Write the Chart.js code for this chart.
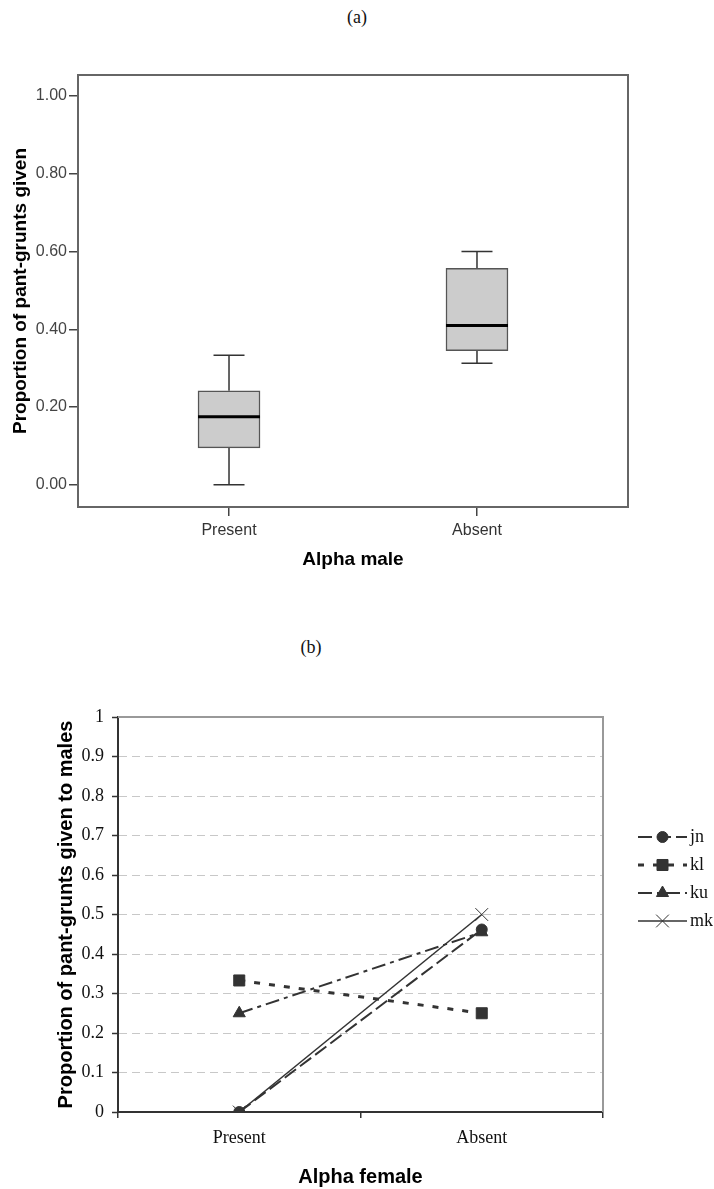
<!DOCTYPE html>
<html>
<head>
<meta charset="utf-8">
<script src="https://cdn.jsdelivr.net/npm/chart.js@4.4.1/dist/chart.umd.min.js"></script>
<style>
  body { margin: 0; width: 714px; height: 1189px; background: #fff; position: relative; overflow: hidden; }
  .panel { position: absolute; font-family: "Liberation Serif", serif; font-size: 18px; color: #111; transform: translate(-50%, -50%); }
  #wrapA { position: absolute; left: 0; top: 0; }
  #wrapB { position: absolute; left: 0; top: 600px; }
</style>
</head>
<body>
<div class="panel" style="left:357px; top:17px">(a)</div>
<div class="panel" style="left:311px; top:647px">(b)</div>
<div id="wrapA"><canvas id="boxChart" width="714" height="600"></canvas></div>
<div id="wrapB"><canvas id="lineChart" width="714" height="589"></canvas></div>

<script>
// (a) box plot: alpha male present / absent
const groups = ['Present', 'Absent'];
const groupPos = [1, 2];
const whiskerLow = [0.0, 0.313];
const quartile1 = [0.095, 0.345];
const medians = [0.175, 0.41];
const quartile3 = [0.242, 0.557];
const whiskerHigh = [0.333, 0.60];
const yTicksA = [0, 0.2, 0.4, 0.6, 0.8, 1.0];

// (b) individual females: alpha female present / absent
const conditions = ['Present', 'Absent'];
const jn = [0, 0.462];
const kl = [0.333, 0.25];
const ku = [0.25, 0.455];
const mk = [0, 0.5];

const sans = 'Liberation Sans, Arial, sans-serif';
const serif = 'Liberation Serif, Times New Roman, serif';

// whiskers + median for the box plot, drawn through the chart scales
const boxParts = {
  id: 'boxParts',
  beforeDatasetsDraw(chart) {
    const { ctx, scales: { x, y } } = chart;
    ctx.save();
    ctx.strokeStyle = '#333';
    ctx.lineWidth = 1.5;
    groupPos.forEach((g, i) => {
      const cx = x.getPixelForValue(g);
      const half = 15.5;
      ctx.beginPath();
      ctx.moveTo(cx, y.getPixelForValue(quartile3[i]));
      ctx.lineTo(cx, y.getPixelForValue(whiskerHigh[i]));
      ctx.moveTo(cx, y.getPixelForValue(quartile1[i]));
      ctx.lineTo(cx, y.getPixelForValue(whiskerLow[i]));
      ctx.moveTo(cx - half, y.getPixelForValue(whiskerHigh[i]));
      ctx.lineTo(cx + half, y.getPixelForValue(whiskerHigh[i]));
      ctx.moveTo(cx - half, y.getPixelForValue(whiskerLow[i]));
      ctx.lineTo(cx + half, y.getPixelForValue(whiskerLow[i]));
      ctx.stroke();
    });
    ctx.restore();
  },
  afterDatasetsDraw(chart) {
    const { ctx, scales: { x, y } } = chart;
    const bars = chart.getDatasetMeta(0).data;
    ctx.save();
    ctx.strokeStyle = '#000';
    ctx.lineWidth = 3;
    groupPos.forEach((g, i) => {
      const w = bars[i].width / 2;
      const cx = x.getPixelForValue(g);
      const my = y.getPixelForValue(medians[i]);
      ctx.beginPath();
      ctx.moveTo(cx - w, my);
      ctx.lineTo(cx + w, my);
      ctx.stroke();
    });
    ctx.restore();
  },
  afterDraw(chart) {
    const { ctx, chartArea: a } = chart;
    ctx.save();
    ctx.strokeStyle = '#666';
    ctx.lineWidth = 2;
    ctx.strokeRect(a.left, a.top, a.right - a.left, a.bottom - a.top);
    ctx.restore();
  }
};

new Chart(document.getElementById('boxChart'), {
  type: 'bar',
  data: {
    datasets: [{
      data: groupPos.map((g, i) => ({ x: g, y: [quartile1[i], quartile3[i]] })),
      backgroundColor: '#cccccc',
      borderColor: '#555',
      borderWidth: 1.5,
      borderSkipped: false,
      barThickness: 62
    }]
  },
  options: {
    responsive: false,
    animation: false,
    layout: { padding: { left: 9, top: 75, right: 86, bottom: 29 } },
    plugins: { legend: { display: false }, tooltip: { enabled: false } },
    scales: {
      x: {
        type: 'linear',
        min: 0.391,
        max: 2.609,
        offset: false,
        afterBuildTicks: s => { s.ticks = groupPos.map(v => ({ value: v })); },
        afterFit: s => { s.height = 64; },
        ticks: { callback: (v, i) => groups[i], color: '#333', font: { family: sans, size: 16 }, padding: 5, maxRotation: 0 },
        grid: { offset: false, drawOnChartArea: false, tickLength: 9, color: '#444', lineWidth: 1.5 },
        border: { color: '#666', width: 2 },
        title: { display: true, text: 'Alpha male', color: '#000', font: { family: sans, size: 19, weight: 'bold' }, padding: 0 }
      },
      y: {
        min: -0.057,
        max: 1.054,
        afterBuildTicks: s => { s.ticks = yTicksA.map(v => ({ value: v })); },
        afterFit: s => { s.width = 69; },
        ticks: { callback: v => v.toFixed(2), color: '#444', font: { family: sans, size: 16 }, padding: 2 },
        grid: { drawOnChartArea: false, tickLength: 9, color: '#444', lineWidth: 1.5 },
        border: { color: '#666', width: 2 },
        title: { display: true, text: 'Proportion of pant-grunts given', color: '#000', font: { family: sans, size: 19, weight: 'bold' }, padding: 0 }
      }
    }
  },
  plugins: [boxParts]
});

// frame + legend for (b)
const frameLegend = {
  id: 'frameLegend',
  beforeDatasetsDraw(chart) {
    const { ctx, chartArea: a } = chart;
    ctx.save();
    ctx.strokeStyle = '#999';
    ctx.lineWidth = 2;
    ctx.beginPath();
    ctx.moveTo(a.left, a.top);
    ctx.lineTo(a.right, a.top);
    ctx.lineTo(a.right, a.bottom);
    ctx.stroke();
    ctx.restore();
  },
  afterDraw(chart) {
    const { ctx, chartArea: a } = chart;
    const x0 = a.right + 35;
    chart.data.datasets.forEach((ds, i) => {
      const yy = 237 + i * 28;
      ctx.save();
      ctx.strokeStyle = ds.borderColor;
      ctx.lineWidth = ds.borderWidth;
      ctx.setLineDash(ds.borderDash || []);
      ctx.beginPath();
      ctx.moveTo(x0, yy);
      ctx.lineTo(x0 + 49, yy);
      ctx.stroke();
      ctx.restore();
      ctx.save();
      ctx.fillStyle = ds.pointBackgroundColor;
      ctx.strokeStyle = ds.pointBorderColor;
      ctx.lineWidth = ds.pointBorderWidth;
      Chart.helpers.drawPoint(ctx, { pointStyle: ds.pointStyle, radius: ds.pointRadius, borderWidth: ds.pointBorderWidth, rotation: 0 }, x0 + 24.5, yy);
      ctx.restore();
      ctx.save();
      ctx.fillStyle = '#111';
      ctx.font = '18px ' + serif;
      ctx.textBaseline = 'middle';
      ctx.fillText(ds.label, x0 + 52, yy);
      ctx.restore();
    });
  }
};

const dark = '#333';
new Chart(document.getElementById('lineChart'), {
  type: 'line',
  data: {
    labels: conditions,
    datasets: [
      { label: 'jn', data: jn, borderColor: dark, borderWidth: 2, borderDash: [14, 5],
        pointStyle: 'circle', pointRadius: 5.5, pointBackgroundColor: dark, pointBorderColor: dark, pointBorderWidth: 1 },
      { label: 'kl', data: kl, borderColor: dark, borderWidth: 3, borderDash: [6, 9],
        pointStyle: 'rect', pointRadius: 7.8, pointBackgroundColor: dark, pointBorderColor: dark, pointBorderWidth: 1 },
      { label: 'ku', data: ku, borderColor: dark, borderWidth: 2, borderDash: [14, 5, 4, 5],
        pointStyle: 'triangle', pointRadius: 7, pointBackgroundColor: dark, pointBorderColor: dark, pointBorderWidth: 1 },
      { label: 'mk', data: mk, borderColor: dark, borderWidth: 1.5, borderDash: [],
        pointStyle: 'crossRot', pointRadius: 9, pointBackgroundColor: dark, pointBorderColor: dark, pointBorderWidth: 1 }
    ]
  },
  options: {
    responsive: false,
    animation: false,
    layout: { padding: { left: 54, top: 117, right: 111, bottom: 0 } },
    plugins: { legend: { display: false }, tooltip: { enabled: false } },
    scales: {
      x: {
        type: 'category',
        offset: true,
        afterFit: s => { s.height = 77; },
        ticks: { color: '#111', font: { family: serif, size: 18 }, padding: 9, maxRotation: 0 },
        grid: { offset: true, drawOnChartArea: false, tickLength: 6, color: '#333', lineWidth: 1.5 },
        border: { color: '#333', width: 2 },
        title: { display: true, text: 'Alpha female', color: '#000', font: { family: sans, size: 20, weight: 'bold' }, padding: 0 }
      },
      y: {
        min: 0,
        max: 1,
        afterFit: s => { s.width = 64; },
        ticks: { stepSize: 0.1, callback: v => String(Math.round(v * 10) / 10), color: '#111', font: { family: serif, size: 18 }, padding: 8 },
        grid: { color: '#c8c8c8', lineWidth: 1, tickLength: 6, tickColor: '#333', tickWidth: 1.5, tickBorderDash: [] },
        border: { color: '#333', width: 2, dash: [8, 5] },
        title: { display: true, text: 'Proportion of pant-grunts given to males', color: '#000', font: { family: sans, size: 20, weight: 'bold' }, padding: 0 }
      }
    }
  },
  plugins: [frameLegend]
});
</script>
</body>
</html>
